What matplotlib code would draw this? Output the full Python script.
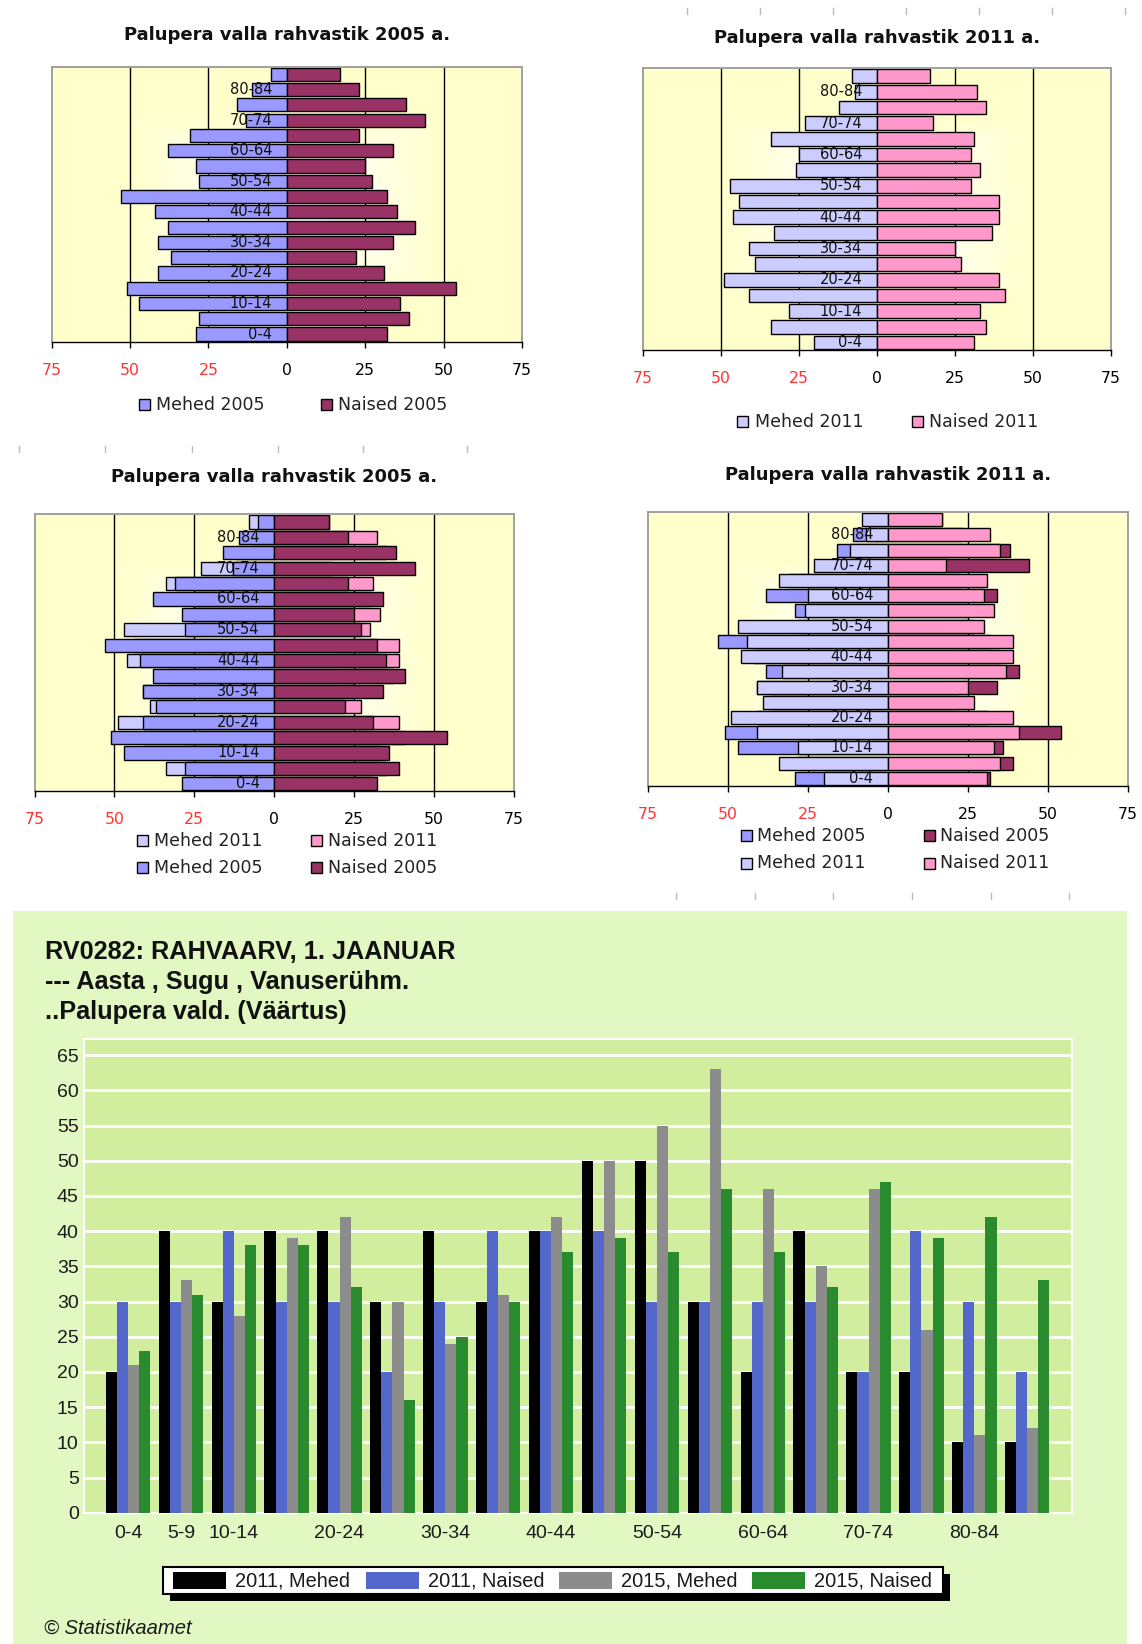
import matplotlib
matplotlib.use('Agg')
import matplotlib.pyplot as plt
from matplotlib.patches import Rectangle
from matplotlib.lines import Line2D
import numpy as np

# Age groups, youngest first
age_groups = ['0-4', '5-9', '10-14', '15-19', '20-24', '25-29', '30-34', '35-39',
              '40-44', '45-49', '50-54', '55-59', '60-64', '65-69', '70-74',
              '75-79', '80-84', '85+']

# Pyramid values (persons)
men_2005 = [29, 28, 47, 51, 41, 37, 41, 38, 42, 53, 28, 29, 38, 31, 13, 16, 11, 5]
women_2005 = [32, 39, 36, 54, 31, 22, 34, 41, 35, 32, 27, 25, 34, 23, 44, 38, 23, 17]
men_2011 = [20, 34, 28, 41, 49, 39, 41, 33, 46, 44, 47, 26, 25, 34, 23, 12, 7, 8]
women_2011 = [31, 35, 33, 41, 39, 27, 25, 37, 39, 39, 30, 33, 30, 31, 18, 35, 32, 17]

# Statistikaamet table RV0282
men_2011_st = [20, 40, 30, 40, 40, 30, 40, 30, 40, 50, 50, 30, 20, 40, 20, 20, 10, 10]
women_2011_st = [30, 30, 40, 30, 30, 20, 30, 40, 40, 40, 30, 30, 30, 30, 20, 40, 30, 20]
men_2015_st = [21, 33, 28, 39, 42, 30, 24, 31, 42, 50, 55, 63, 46, 35, 46, 26, 11, 12]
women_2015_st = [23, 31, 38, 38, 32, 16, 25, 30, 37, 39, 37, 46, 37, 32, 47, 39, 42, 33]

W, H = 1142, 1644
fig = plt.figure(figsize=(W / 100, H / 100), dpi=100)


def fx(x):
    return x / W


def fy(y):
    return 1 - y / H


def box(x0, y0, x1, y1):
    return [fx(x0), fy(y1), (x1 - x0) / W, (y1 - y0) / H]


# colours of the old excel palette
c_m05, c_f05 = '#9999FF', '#993366'
c_m11, c_f11 = '#CCCCFF', '#FF99CC'

# yellow "from center" gradient for the pyramid plot area
u = np.linspace(-1, 1, 300)
uu, vv = np.meshgrid(u, u)
t = np.clip((np.maximum(np.abs(uu), np.abs(vv)) - 0.15) / 0.5, 0, 1)
grad = np.dstack([np.ones_like(t), np.ones_like(t), 1 - 0.2 * t])


def pyramid(rect, layers, title, title_y, tick_font=11.3):
    ax = fig.add_axes(box(*rect))
    ax.imshow(grad, extent=(-75, 75, -0.5, 17.5), aspect='auto', zorder=0)
    ax.set_xlim(-75, 75)
    ax.set_ylim(-0.5, 17.5)
    for g in (-50, -25, 25, 50):
        ax.axvline(g, color='black', lw=1, zorder=1)
    y = np.arange(len(age_groups))
    for men, women, cm, cw in layers:
        ax.barh(y, -np.array(men), height=0.86, color=cm, edgecolor='black', lw=1, zorder=2)
        ax.barh(y, women, height=0.86, color=cw, edgecolor='black', lw=1, zorder=2)
    for i in range(0, 17, 2):
        ax.annotate(age_groups[i], (0, i), xytext=(-10.6, 0), textcoords='offset points',
                    ha='right', va='center', fontsize=10.5, color='#111111', zorder=5)
    ax.set_xticks([-75, -50, -25, 0, 25, 50, 75])
    ax.set_xticklabels(['75', '50', '25', '0', '25', '50', '75'])
    ax.tick_params(axis='x', direction='out', length=4.5, width=1, pad=10.5,
                   labelsize=tick_font, colors='black')
    for lab in ax.get_xticklabels()[:3]:
        lab.set_color('#FF3333')
    ax.set_yticks([])
    for s in ('left', 'top', 'right'):
        ax.spines[s].set_color('#A0A0A0')
        ax.spines[s].set_linewidth(1.4)
    ax.spines['bottom'].set_color('black')
    ax.spines['bottom'].set_linewidth(1)
    cx = (rect[0] + rect[2]) / 2
    fig.text(fx(cx), fy(title_y), title, ha='center', va='center', fontsize=13,
             fontweight='bold', color='#111111')
    return ax


def pyr_legend(items, y):
    for x_box, x_txt, col, label in items:
        fig.add_artist(Rectangle((fx(x_box), fy(y + 5.5)), 11 / W, 11 / H,
                                 facecolor=col, edgecolor='black', lw=1,
                                 transform=fig.transFigure))
        fig.text(fx(x_txt), fy(y), label, ha='left', va='center', fontsize=12.5,
                 color='#222222')


pyramid((51.7, 66.7, 522, 341.7), [(men_2005, women_2005, c_m05, c_f05)],
        'Palupera valla rahvastik 2005 a.', 35)
pyr_legend([(139, 156, c_m05, 'Mehed 2005'), (321, 338, c_f05, 'Naised 2005')], 405)

pyramid((642.7, 68.3, 1111, 350.4), [(men_2011, women_2011, c_m11, c_f11)],
        'Palupera valla rahvastik 2011 a.', 38)
pyr_legend([(737, 755, c_m11, 'Mehed 2011'), (912, 929, c_f11, 'Naised 2011')], 422)

pyramid((34.5, 514.3, 514, 791.4),
        [(men_2011, women_2011, c_m11, c_f11), (men_2005, women_2005, c_m05, c_f05)],
        'Palupera valla rahvastik 2005 a.', 477)
pyr_legend([(137, 154, c_m11, 'Mehed 2011'), (311, 328, c_f11, 'Naised 2011')], 841)
pyr_legend([(137, 154, c_m05, 'Mehed 2005'), (311, 328, c_f05, 'Naised 2005')], 868)

pyramid((648, 512, 1128, 786),
        [(men_2005, women_2005, c_m05, c_f05), (men_2011, women_2011, c_m11, c_f11)],
        'Palupera valla rahvastik 2011 a.', 475)
pyr_legend([(741, 757, c_m05, 'Mehed 2005'), (924, 940, c_f05, 'Naised 2005')], 836)
pyr_legend([(741, 757, c_m11, 'Mehed 2011'), (924, 940, c_f11, 'Naised 2011')], 863)

# little leftover axis ticks from the cropped screenshots
for y0, xs in [(8, [687, 760, 833, 906, 979, 1052, 1125]),
               (446, [19, 105, 192, 278, 363, 467]),
               (893, [676, 755, 833, 912, 991, 1069])]:
    for x0 in xs:
        fig.add_artist(Line2D([fx(x0), fx(x0)], [fy(y0), fy(y0 + 6)], color='#BBBBBB',
                              lw=1, transform=fig.transFigure))

# ---- Statistikaamet chart ----
fig.add_artist(Rectangle((fx(13), fy(1644)), 1114 / W, (1644 - 911) / H,
                         facecolor='#E2F8C2', edgecolor='none', transform=fig.transFigure,
                         zorder=-1))
sans = 'Liberation Sans'
title_lines = ['RV0282: RAHVAARV, 1. JAANUAR', '--- Aasta , Sugu , Vanuserühm.',
               '..Palupera vald. (Väärtus)']
for k, line in enumerate(title_lines):
    fig.text(fx(45), fy(952 + 30 * k), line, ha='left', va='center', fontsize=18.2,
             fontweight='bold', family=sans, color='#111111')

ax = fig.add_axes(box(84.3, 1039, 1072.2, 1512.7))
ax.set_facecolor('#D0EE9E')
x = np.arange(len(age_groups))
w = 0.21
series = [(men_2011_st, '#000000', '2011, Mehed'),
          (women_2011_st, '#5468CC', '2011, Naised'),
          (men_2015_st, '#8C8C8C', '2015, Mehed'),
          (women_2015_st, '#2A8A2E', '2015, Naised')]
for k, (vals, col, lab) in enumerate(series):
    ax.bar(x + (k - 1.5) * w, vals, w, color=col, zorder=3)
ax.set_xlim(-0.825, 17.85)
ax.set_ylim(0, 67.3)
ax.set_yticks(range(0, 66, 5))
ax.yaxis.grid(True, color='white', lw=2)
ax.set_axisbelow(True)
shown = [0, 1, 2, 4, 6, 8, 10, 12, 14, 16]
ax.set_xticks(shown)
ax.set_xticklabels([age_groups[i] for i in shown])
ax.tick_params(length=0, labelsize=14, colors='#1A1A1A')
ax.tick_params(axis='x', pad=8.5)
ax.tick_params(axis='y', pad=4)
for lab in ax.get_xticklabels() + ax.get_yticklabels():
    lab.set_family(sans)
for s in ax.spines.values():
    s.set_color('white')
    s.set_linewidth(1.5)

# legend box with black drop shadow
lx0, ly0, lx1, ly1 = 162.5, 1567, 943, 1594
fig.add_artist(Rectangle((fx(lx0 + 7), fy(ly1 + 7)), (lx1 - lx0) / W, (ly1 - ly0) / H,
                         facecolor='black', edgecolor='none', transform=fig.transFigure))
fig.add_artist(Rectangle((fx(lx0), fy(ly1)), (lx1 - lx0) / W, (ly1 - ly0) / H,
                         facecolor='white', edgecolor='black', lw=1.5,
                         transform=fig.transFigure))
for (vals, col, lab), px in zip(series, [173, 366, 559, 752]):
    fig.add_artist(Rectangle((fx(px), fy(1589)), 53 / W, 17.5 / H, facecolor=col,
                             edgecolor='none', transform=fig.transFigure))
    fig.text(fx(px + 62), fy(1581), lab, ha='left', va='center', fontsize=14.4,
             family=sans, color='#1A1A1A')

fig.text(fx(44), fy(1628), '© Statistikaamet', ha='left', va='center', fontsize=14.6,
         style='italic', family=sans, color='#1A1A1A')

fig.savefig('out.png', dpi=100, facecolor='white')
